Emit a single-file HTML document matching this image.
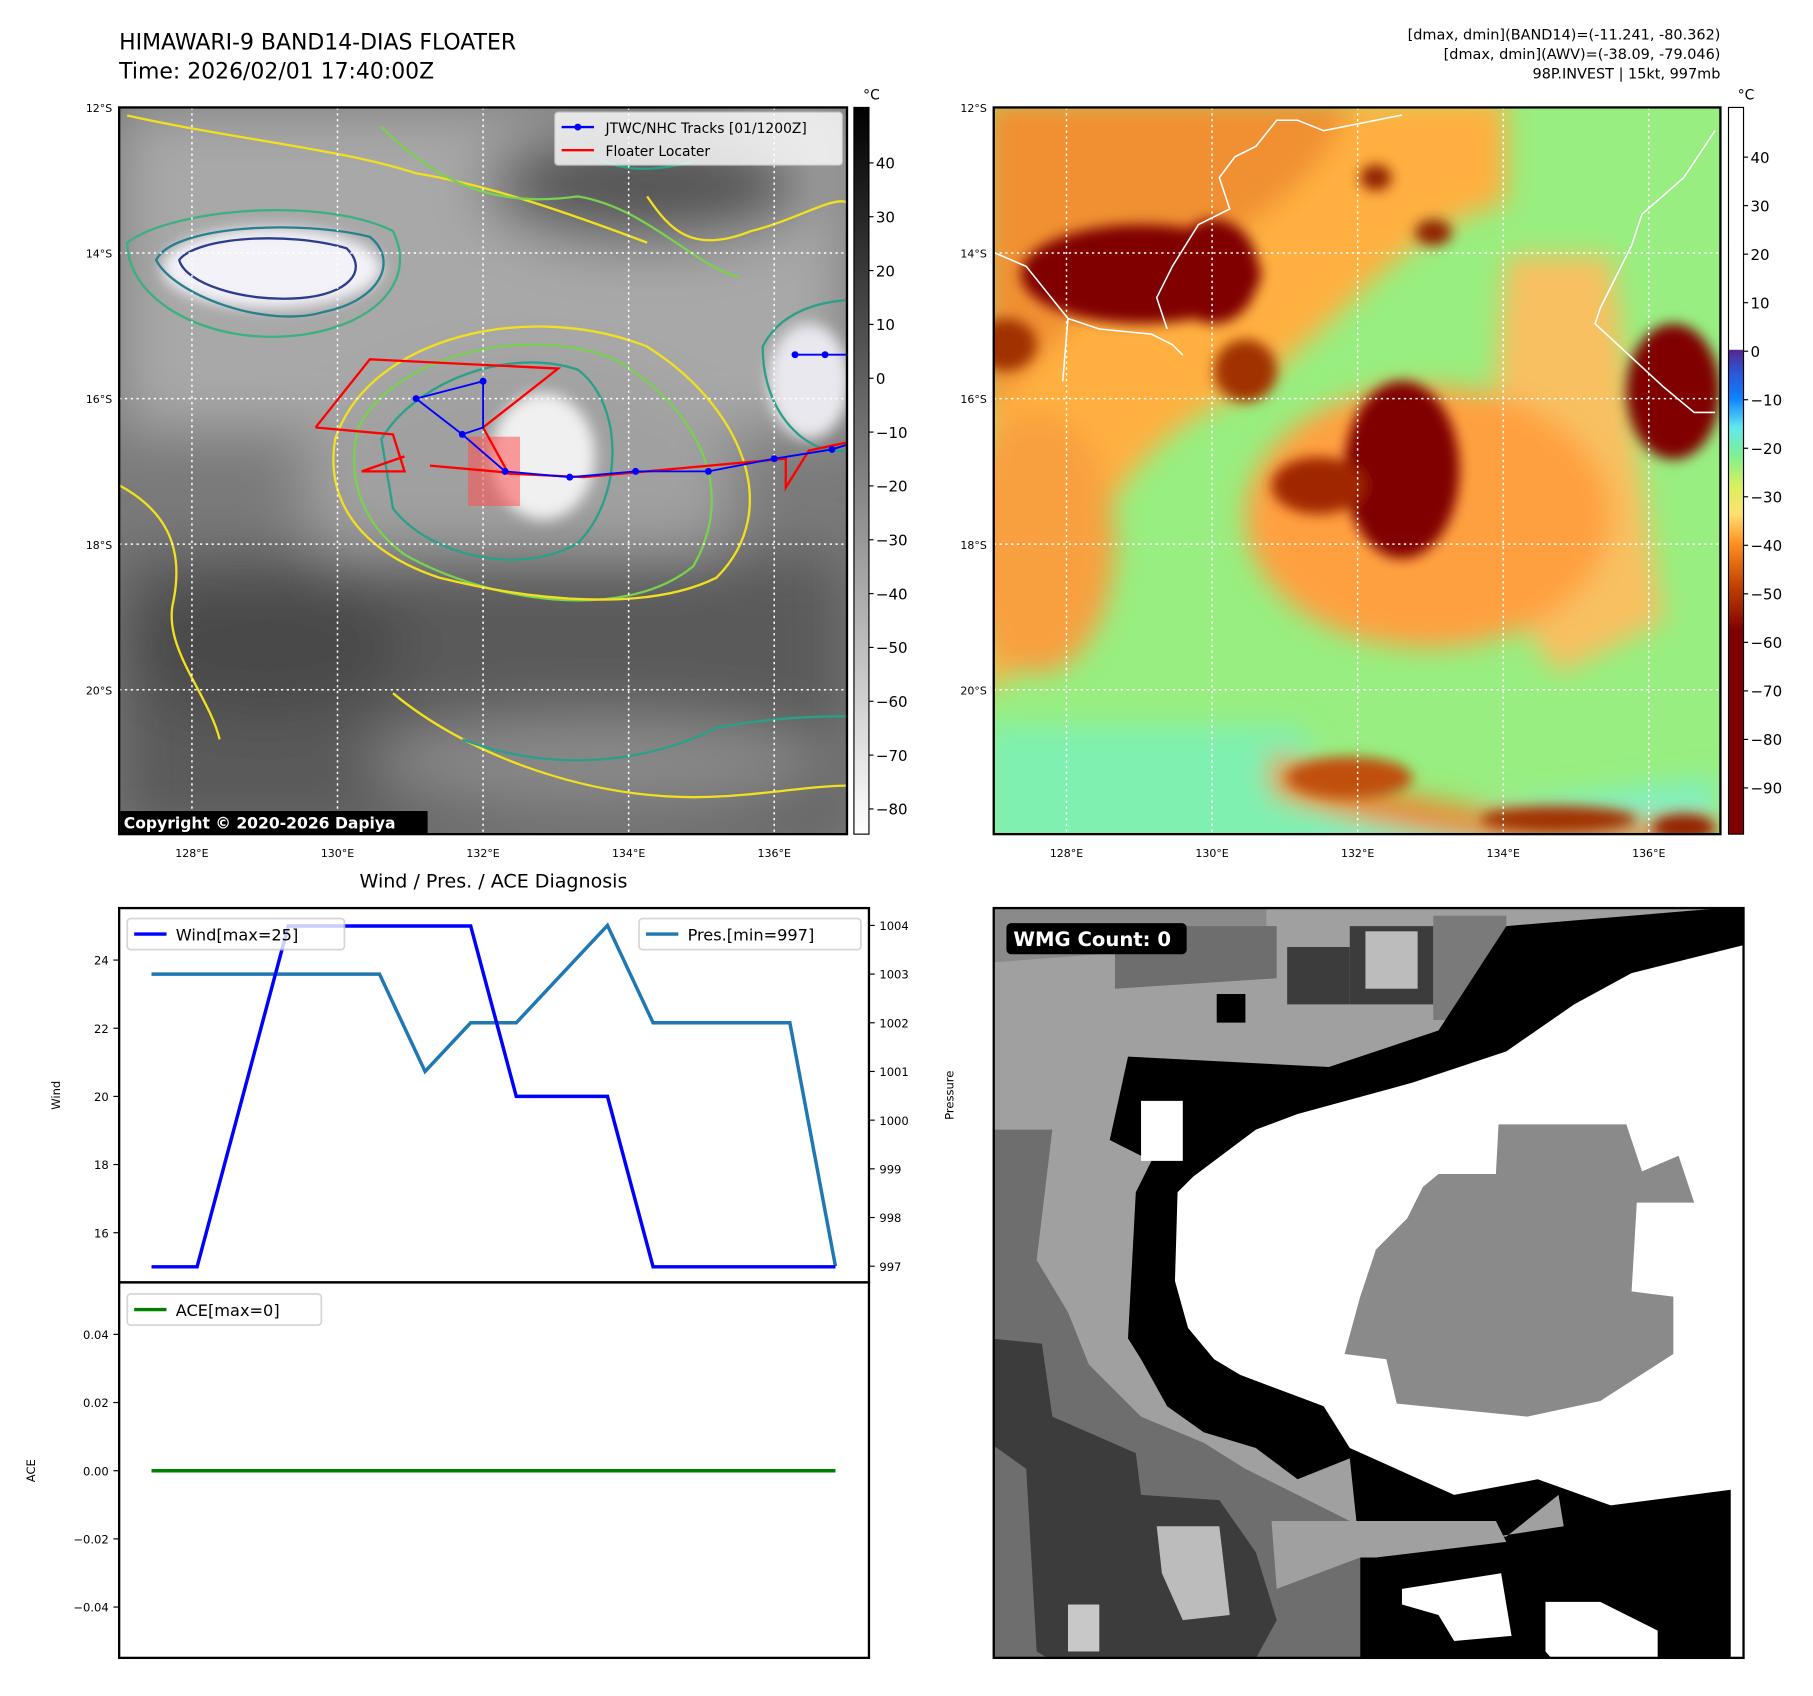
<!DOCTYPE html>
<html><head><meta charset="utf-8"><style>
html,body{margin:0;padding:0;background:#fff}
svg{display:block}
text{font-family:"DejaVu Sans","Liberation Sans",sans-serif}
</style></head><body>
<svg id="root" width="1813" height="1696" viewBox="0 0 1569 1468" xmlns="http://www.w3.org/2000/svg">
<defs>
<filter id="b6" x="-20%" y="-20%" width="140%" height="140%"><feGaussianBlur stdDeviation="6"/></filter>
<filter id="b12" x="-20%" y="-20%" width="140%" height="140%"><feGaussianBlur stdDeviation="12"/></filter>
<filter id="b25" x="-30%" y="-30%" width="160%" height="160%"><feGaussianBlur stdDeviation="25"/></filter>
<clipPath id="c1"><rect x="103" y="93" width="630" height="629"/></clipPath>
<clipPath id="c2"><rect x="860" y="93" width="629" height="629"/></clipPath>
<clipPath id="c3"><rect x="860" y="786" width="649" height="649"/></clipPath>
<linearGradient id="cbg" x1="0" y1="0" x2="0" y2="1"><stop offset="0" stop-color="#000"/><stop offset="1" stop-color="#fff"/></linearGradient>
<linearGradient id="cbc" x1="0" y1="0" x2="0" y2="1">
<stop offset="0" stop-color="#fff"/><stop offset="0.333" stop-color="#fff"/>
<stop offset="0.334" stop-color="#5a2590"/><stop offset="0.36" stop-color="#3050d0"/><stop offset="0.4" stop-color="#1080ff"/>
<stop offset="0.44" stop-color="#60e8f0"/><stop offset="0.48" stop-color="#80f090"/><stop offset="0.52" stop-color="#d8f060"/>
<stop offset="0.56" stop-color="#ffe070"/><stop offset="0.6" stop-color="#ff9020"/><stop offset="0.66" stop-color="#c04000"/>
<stop offset="0.72" stop-color="#800000"/><stop offset="1" stop-color="#800000"/></linearGradient>
</defs>

<text x="103" y="43" font-size="19">HIMAWARI-9 BAND14-DIAS FLOATER</text>
<text x="103" y="68" font-size="19">Time: 2026/02/01 17:40:00Z</text>
<g font-size="12.5" text-anchor="end">
<text x="1489" y="34">[dmax, dmin](BAND14)=(-11.241, -80.362)</text>
<text x="1489" y="51">[dmax, dmin](AWV)=(-38.09, -79.046)</text>
<text x="1489" y="68">98P.INVEST | 15kt, 997mb</text>
</g>

<!-- MAP 1 -->
<g clip-path="url(#c1)">
<rect x="103" y="93" width="630" height="629" fill="#7a7a7a"/>
<g filter="url(#b25)">
<rect x="103" y="93" width="630" height="280" fill="#a8a8a8"/>
<ellipse cx="450" cy="420" rx="190" ry="110" fill="#a0a0a0"/>
<rect x="103" y="480" width="630" height="242" fill="#5a5a5a"/>
<ellipse cx="560" cy="160" rx="140" ry="50" fill="#555"/>
<ellipse cx="230" cy="560" rx="120" ry="60" fill="#4a4a4a"/>
<ellipse cx="520" cy="660" rx="200" ry="40" fill="#8a8a8a"/>
</g>
<g filter="url(#b6)">
<ellipse cx="235" cy="232" rx="95" ry="35" fill="#f2f2f8"/>
<ellipse cx="470" cy="395" rx="45" ry="55" fill="#f0f0f0"/>
<ellipse cx="700" cy="330" rx="35" ry="50" fill="#e8e8ee"/>
</g>
<g fill="none" stroke-width="2">
<path d="M135,225 C150,195 260,190 320,205 C345,225 330,260 280,270 C230,285 150,255 135,225Z" stroke="#2a7f8e"/>
<path d="M155,225 C170,205 250,200 300,215 C320,235 300,255 260,258 C210,262 160,245 155,225Z" stroke="#2c3c8c"/>
<path d="M110,210 C150,180 280,170 340,200 C360,240 330,280 260,290 C180,300 110,260 110,210Z" stroke="#3bb080"/>
<path d="M330,380 C360,330 440,300 500,320 C540,350 540,430 500,470 C450,500 370,480 340,440Z" stroke="#2a9f8a"/>
<path d="M310,370 C340,310 450,280 530,310 C600,350 640,420 600,490 C540,540 420,520 350,480 C310,450 300,410 310,370Z" stroke="#7ad050"/>
<path d="M290,380 C320,290 460,260 560,300 C640,350 680,440 620,500 C560,530 460,520 380,500 C320,480 280,440 290,380Z" stroke="#f2e020"/>
<path d="M660,300 C680,260 733,260 733,260 L733,390 C700,395 660,360 660,300Z" stroke="#2a9f8a"/>
<path d="M110,100 C200,120 300,130 360,150 C420,160 480,180 560,210" stroke="#f2e020"/>
<path d="M330,110 C380,160 430,180 500,170 C560,180 600,230 640,240" stroke="#7ad050"/>
<path d="M340,600 C400,650 500,690 600,690 C650,690 700,680 733,680" stroke="#f2e020"/>
<path d="M400,640 C480,670 560,660 620,630 C670,620 720,620 733,620" stroke="#2a9f8a"/>
<path d="M103,420 C140,440 160,470 150,520 C140,560 180,600 190,640" stroke="#f2e020"/>
<path d="M560,170 C580,200 600,220 650,200 C690,190 720,170 733,175" stroke="#f2e020"/>
<path d="M500,120 C520,150 560,150 600,140" stroke="#2a9f8a"/>
</g>
<g stroke="#fff" stroke-dasharray="2,3" stroke-width="1.3">
<line x1="166" y1="93" x2="166" y2="722"/><line x1="292" y1="93" x2="292" y2="722"/><line x1="418" y1="93" x2="418" y2="722"/><line x1="544" y1="93" x2="544" y2="722"/><line x1="670" y1="93" x2="670" y2="722"/>
<line x1="103" y1="219" x2="733" y2="219"/><line x1="103" y1="345" x2="733" y2="345"/><line x1="103" y1="471" x2="733" y2="471"/><line x1="103" y1="597" x2="733" y2="597"/>
</g>
<rect x="405" y="378" width="45" height="60" fill="#ff5050" opacity="0.55"/>
<polyline points="273,370 320,311 483,319 418,370 440,410 505,413 680,397 680,422 700,390 733,383" fill="none" stroke="#f00" stroke-width="2"/>
<polyline points="350,395 313,408 350,408 340,376 273,370" fill="none" stroke="#f00" stroke-width="2"/>
<polyline points="372,403 450,410" fill="none" stroke="#f00" stroke-width="2"/>
<g>
<polyline points="360,345 418,330 418,370 400,376 437,408 493,413 550,408 613,408 670,397 720,389 733,385" fill="none" stroke="#00f" stroke-width="1.6"/>
<polyline points="360,345 400,376" fill="none" stroke="#00f" stroke-width="1.6"/>
<polyline points="688,307 733,307" fill="none" stroke="#00f" stroke-width="1.6"/>
<g fill="#00f"><circle cx="360" cy="345" r="3"/><circle cx="418" cy="330" r="3"/><circle cx="400" cy="376" r="3"/><circle cx="437" cy="408" r="3"/><circle cx="493" cy="413" r="3"/><circle cx="550" cy="408" r="3"/><circle cx="613" cy="408" r="3"/><circle cx="670" cy="397" r="3"/><circle cx="720" cy="389" r="3"/><circle cx="688" cy="307" r="3"/><circle cx="714" cy="307" r="3"/></g>
</g>
</g>
<rect x="103" y="93" width="630" height="629" fill="none" stroke="#000" stroke-width="2"/>
<g>
<rect x="480" y="97" width="249" height="46" fill="#fff" opacity="0.8" stroke="#ccc" rx="3"/>
<line x1="486" y1="110" x2="514" y2="110" stroke="#00f" stroke-width="2"/><circle cx="500" cy="110" r="3" fill="#00f"/>
<text x="524" y="115" font-size="12">JTWC/NHC Tracks [01/1200Z]</text>
<line x1="486" y1="130" x2="514" y2="130" stroke="#f00" stroke-width="2"/>
<text x="524" y="135" font-size="12">Floater Locater</text>
</g>
<rect x="104" y="702" width="266" height="19" fill="#000"/>
<text x="107" y="717" font-size="13.5" font-weight="bold" fill="#fff">Copyright © 2020-2026 Dapiya</text>
<g font-size="9.5" text-anchor="end">
<text x="97" y="97">12°S</text><text x="97" y="223">14°S</text><text x="97" y="349">16°S</text><text x="97" y="475">18°S</text><text x="97" y="601">20°S</text></g>
<g font-size="9.5" text-anchor="middle">
<text x="166" y="742">128°E</text><text x="292" y="742">130°E</text><text x="418" y="742">132°E</text><text x="544" y="742">134°E</text><text x="670" y="742">136°E</text></g>
<g>
<rect x="739" y="93" width="13" height="629" fill="url(#cbg)" stroke="#000"/>
<text x="747" y="86" font-size="12">°C</text>
<g font-size="13" id="cb1t"></g>
</g>

<!-- MAP 2 -->
<g clip-path="url(#c2)">
<rect x="860" y="93" width="629" height="629" fill="#98ee80"/>
<g transform="translate(852,86) scale(0.4517)">
<g filter="url(#b25)">
<path d="M0,0 L1000,0 L1000,200 C800,240 700,420 500,560 C300,640 200,800 150,1000 L0,1150Z" fill="#ffb040"/>
<path d="M0,0 L700,0 C650,200 400,300 200,400 L0,600Z" fill="#f09030"/>
<path d="M1000,300 L1200,300 L1300,1000 L1100,1100 L950,900Z" fill="#f8c060"/>
<path d="M0,1200 L600,1200 L800,1550 L0,1550Z" fill="#80f0b0"/>
<path d="M600,1400 L1400,1300 L1400,1550 L700,1550Z" fill="#80f0c0"/>
<path d="M550,1250 C800,1350 1100,1400 1400,1380 L1400,1450 C1100,1450 800,1420 550,1330Z" fill="#e88a30"/>
<ellipse cx="850" cy="800" rx="350" ry="250" fill="#ffa040"/>
<ellipse cx="100" cy="850" rx="150" ry="250" fill="#f8a040"/>
</g>
<g filter="url(#b12)">
<ellipse cx="300" cy="335" rx="230" ry="95" fill="#800000"/>
<ellipse cx="440" cy="330" rx="85" ry="100" fill="#800000"/>
<ellipse cx="800" cy="710" rx="110" ry="170" fill="#800000"/>
<ellipse cx="640" cy="740" rx="90" ry="55" fill="#a02800"/>
<ellipse cx="1320" cy="560" rx="90" ry="130" fill="#800000"/>
<ellipse cx="750" cy="150" rx="30" ry="25" fill="#902000"/>
<ellipse cx="860" cy="255" rx="35" ry="25" fill="#902000"/>
<ellipse cx="500" cy="520" rx="60" ry="60" fill="#a03000"/>
<ellipse cx="40" cy="470" rx="60" ry="50" fill="#a03000"/>
<ellipse cx="1100" cy="1380" rx="150" ry="25" fill="#a03000"/>
<ellipse cx="1340" cy="1395" rx="60" ry="25" fill="#902000"/>
<ellipse cx="700" cy="1300" rx="120" ry="40" fill="#c05010"/>
</g>
<g fill="none" stroke="#fff" stroke-width="3">
<path d="M10,290 L80,320 L160,420 L150,540 M160,420 L220,440 L320,450 L360,470 L380,490 M350,440 L330,380 L360,320 L410,240 L470,210 L450,150 L480,110 L520,90 L560,40 L600,40 L650,60 L750,40 L800,30"/>
<path d="M1400,60 L1340,150 L1260,220 L1240,280 L1180,400 L1170,430 L1300,550 L1360,600 L1400,600"/>
</g>
</g>
<g stroke="#fff" stroke-dasharray="2,3" stroke-width="1.3">
<line x1="923" y1="93" x2="923" y2="722"/><line x1="1049" y1="93" x2="1049" y2="722"/><line x1="1175" y1="93" x2="1175" y2="722"/><line x1="1301" y1="93" x2="1301" y2="722"/><line x1="1427" y1="93" x2="1427" y2="722"/>
<line x1="860" y1="219" x2="1489" y2="219"/><line x1="860" y1="345" x2="1489" y2="345"/><line x1="860" y1="471" x2="1489" y2="471"/><line x1="860" y1="597" x2="1489" y2="597"/>
</g>
</g>
<rect x="860" y="93" width="629" height="629" fill="none" stroke="#000" stroke-width="2"/>
<g font-size="9.5" text-anchor="end">
<text x="854" y="97">12°S</text><text x="854" y="223">14°S</text><text x="854" y="349">16°S</text><text x="854" y="475">18°S</text><text x="854" y="601">20°S</text></g>
<g font-size="9.5" text-anchor="middle">
<text x="923" y="742">128°E</text><text x="1049" y="742">130°E</text><text x="1175" y="742">132°E</text><text x="1301" y="742">134°E</text><text x="1427" y="742">136°E</text></g>
<g>
<rect x="1496" y="93" width="13" height="629" fill="url(#cbc)" stroke="#000"/>
<text x="1504" y="86" font-size="12">°C</text>
<g font-size="13" id="cb2t"></g>
</g>

<!-- CHART -->
<text x="427" y="768" font-size="16.5" text-anchor="middle">Wind / Pres. / ACE Diagnosis</text>
<g id="chart"></g>

<!-- WMG -->
<g clip-path="url(#c3)">
<rect x="860" y="786" width="649" height="649" fill="#a0a0a0"/>
<g transform="translate(852,774.5) scale(0.4517)">
<path d="M10,450 L130,450 L100,700 L160,800 L200,900 L300,1000 L420,1050 L500,1100 L600,1150 L700,1200 L720,1270 L720,1520 L10,1520Z" fill="#6e6e6e"/>
<path d="M10,850 L110,860 L130,1000 L290,1070 L300,1150 L450,1160 L520,1260 L560,1390 L500,1500 L200,1510 L100,1450 L80,1100 L10,1050Z" fill="#3c3c3c"/>
<path d="M10,1050 L70,1100 L60,1500 L10,1510Z" fill="#6e6e6e"/>
<path d="M330,1210 L450,1210 L470,1380 L380,1390 L340,1300Z" fill="#bcbcbc"/>
<rect x="160" y="1360" width="60" height="90" fill="#c8c8c8"/>
<path d="M10,20 L540,20 L540,90 L10,130Z" fill="#8a8a8a"/>
<path d="M250,60 L560,60 L560,160 L250,180Z" fill="#6e6e6e"/>
<path d="M580,100 L700,100 L700,210 L580,210Z" fill="#3c3c3c"/>
<path d="M700,60 L860,60 L860,210 L700,210Z" fill="#3c3c3c"/>
<rect x="730" y="70" width="100" height="110" fill="#bcbcbc"/>
<rect x="860" y="40" width="140" height="200" fill="#7a7a7a"/>
<path d="M240,470 L275,310 L660,330 L870,260 L1000,60 L1480,20 L1480,1540 L720,1540 L720,1270 L700,1080 L600,1120 L520,1060 L420,1030 L350,980 L300,890 L275,850 L290,570 L320,510Z" fill="#000"/>
<path d="M445,190 L500,190 L500,245 L445,245Z" fill="#000"/>
<path d="M1480,90 L1240,150 L1130,210 L1000,300 L820,360 L600,420 L520,450 L400,540 L370,570 L365,740 L390,830 L440,890 L490,920 L650,980 L700,1060 L900,1150 L1060,1120 L1200,1170 L1430,1140 L1430,1540 L1480,1540Z" fill="#fff"/>
<path d="M300,395 L380,395 L380,510 L300,510Z" fill="#fff"/>
<path d="M690,880 L720,770 L750,680 L810,620 L840,560 L870,535 L980,535 L985,440 L1230,440 L1260,530 L1330,500 L1360,590 L1250,590 L1240,760 L1320,770 L1320,880 L1180,970 L1040,1000 L790,975 L770,890Z" fill="#8a8a8a"/>
<path d="M800,1330 L990,1300 L1010,1420 L900,1430 L870,1380 L800,1360Z" fill="#fff"/>
<path d="M1075,1355 L1180,1355 L1290,1410 L1290,1500 L1120,1500 L1075,1450Z" fill="#fff"/>
<path d="M1000,1230 L1100,1150 L1110,1210 L980,1230Z" fill="#a0a0a0"/>
<path d="M550,1200 L980,1200 L1000,1240 L750,1270 L720,1270 L560,1330Z" fill="#a0a0a0"/>
</g>
</g>
<rect x="860" y="786" width="649" height="649" fill="none" stroke="#000" stroke-width="2"/>
<rect x="871" y="799" width="156" height="27" rx="4" fill="#000"/>
<text x="877" y="819" font-size="17" font-weight="bold" fill="#fff">WMG Count: 0</text>
</svg>
<script>
// chart data
const idx = [0,1,2,3,4,5,6,7,8,9,10,11,12,13,14,15];
const windVals = [15,15,20,25,25,25,25,25,20,20,20,15,15,15,15,15];
const presVals = [1003,1003,1003,1003,1003,1003,1001,1002,1002,1003,1004,1002,1002,1002,1002,997];
const aceVals = [0,0,0,0,0,0,0,0,0,0,0,0,0,0,0,0];
const windTicks = [16,18,20,22,24];
const presTicks = [997,998,999,1000,1001,1002,1003,1004];
const aceTicks = [-0.04,-0.02,0,0.02,0.04];
const cb1Ticks = [40,30,20,10,0,-10,-20,-30,-40,-50,-60,-70,-80];
const cb2Ticks = [40,30,20,10,0,-10,-20,-30,-40,-50,-60,-70,-80,-90];

const NS="http://www.w3.org/2000/svg";
function mk(tag,attrs,parent){const e=document.createElementNS(NS,tag);for(const k in attrs)e.setAttribute(k,attrs[k]);parent.appendChild(e);return e;}
const X = i => 131 + (723-131)*i/15;
const YW = v => 831 + (24-v)*29.5;
const YP = v => 801 + (1004-v)*42.14;
const YA = v => 1273 - v*2950;
const ch=document.getElementById('chart');

const cb1=document.getElementById('cb1t');
cb1Ticks.forEach(t=>{const y=141+(40-t)*4.66;
 mk('line',{x1:752,y1:y,x2:756,y2:y,stroke:'#000'},cb1);
 const tx=mk('text',{x:758,y:y+5},cb1);tx.textContent=(t<0?'\u2212'+(-t):t);
 
 });
const cb2=document.getElementById('cb2t');
cb2Ticks.forEach(t=>{const y=136+(40-t)*4.2;
 mk('line',{x1:1509,y1:y,x2:1513,y2:y,stroke:'#000'},cb2);
 const tx=mk('text',{x:1515,y:y+5},cb2);tx.textContent=(t<0?'\u2212'+(-t):t);
 
 });

mk('rect',{x:103,y:786,width:649,height:324,fill:'none',stroke:'#000','stroke-width':2},ch);
mk('rect',{x:103,y:1110,width:649,height:325,fill:'none',stroke:'#000','stroke-width':2},ch);
windTicks.forEach(t=>{const y=YW(t);mk('line',{x1:98,y1:y,x2:103,y2:y,stroke:'#000'},ch);
 const tx=mk('text',{x:94,y:y+4,'font-size':10,'text-anchor':'end'},ch);tx.textContent=t;
 
 });
presTicks.forEach(t=>{const y=YP(t);mk('line',{x1:752,y1:y,x2:757,y2:y,stroke:'#000'},ch);
 const tx=mk('text',{x:761,y:y+4,'font-size':10},ch);tx.textContent=t;
 
 });
aceTicks.forEach(t=>{const y=YA(t);mk('line',{x1:98,y1:y,x2:103,y2:y,stroke:'#000'},ch);
 const tx=mk('text',{x:94,y:y+4,'font-size':10,'text-anchor':'end'},ch);tx.textContent=(t<0?'\u2212'+(-t).toFixed(2):t.toFixed(2));
 
 });
let t1=mk('text',{x:52,y:948,'font-size':10,'text-anchor':'middle',transform:'rotate(-90 52 948)'},ch);t1.textContent='Wind';


let t2=mk('text',{x:825,y:948,'font-size':10,'text-anchor':'middle',transform:'rotate(-90 825 948)'},ch);t2.textContent='Pressure';


let t3=mk('text',{x:30,y:1273,'font-size':10,'text-anchor':'middle',transform:'rotate(-90 30 1273)'},ch);t3.textContent='ACE';



function line(vals,yf,color,name){const p=mk('polyline',{points:vals.map((v,i)=>X(idx[i])+','+yf(v)).join(' '),fill:'none',stroke:color,'stroke-width':3},ch);
 
 }
line(presVals,YP,'#1f77b4','pressure-line');
line(windVals,YW,'#0000ff','wind-line');
line(aceVals,YA,'#008000','ace-line');

function legend(x,y,w,color,label,name){const g=mk('g',{},ch);
 
 
 mk('rect',{x:x,y:y,width:w,height:27,rx:3,fill:'#fff',opacity:0.8,stroke:'#ccc','stroke-width':1.5},g);
 mk('line',{x1:x+6,y1:y+13.5,x2:x+34,y2:y+13.5,stroke:color,'stroke-width':3},g);
 const t=mk('text',{x:x+42,y:y+19,'font-size':14},g);t.textContent=label;}
legend(110,795,188,'#0000ff','Wind[max=25]','wind-legend');
legend(553,795,192,'#1f77b4','Pres.[min=997]','pressure-legend');
legend(110,1120,168,'#008000','ACE[max=0]','ace-legend');
</script>
</body></html>
